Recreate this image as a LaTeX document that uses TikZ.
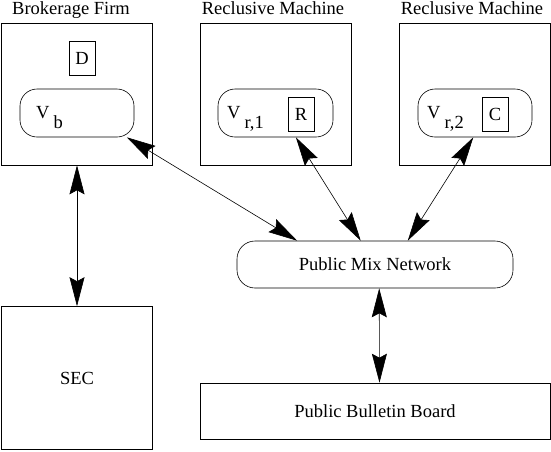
\documentclass[tikz,border=0pt]{standalone}
\usepackage{fontspec}
\setmainfont{Liberation Serif}
\usepackage{tikz}
\usetikzlibrary{arrows.meta}

\begin{document}
\begin{tikzpicture}
		[x=1pt,y=-1pt,font=\fontsize{18.5}{22}\selectfont,
		machine/.style={draw,line width=0.6pt,minimum width=151pt,minimum height=142pt},
		part/.style={draw,line width=0.6pt,rounded corners=17pt,minimum height=48pt},
		key/.style={draw,line width=0.6pt,minimum width=26pt,minimum height=34pt,inner sep=0pt},
		title/.style={anchor=base},
		edge/.style={{Stealth[length=29pt,width=15pt,inset=4pt]}-{Stealth[length=29pt,width=15pt,inset=4pt]},line width=0.6pt}]
		\useasboundingbox (0,0) rectangle (551,451);
		% top row
		\node[machine] (bf) at (77,94) {};
		\node[machine] (rm1) at (276,94) {};
		\node[machine] (rm2) at (474.5,94) {};
		\node[title] (bftitle) at (71,14) {Brokerage Firm};
		\node[title] (rm1title) at (273,14) {Reclusive Machine};
		\node[title] (rm2title) at (472,14) {Reclusive Machine};
		
		\node[key] (d) at (82,58) {D};
		\node[part,minimum width=114pt] (vb) at (77,113) {};
		\node[part,minimum width=115pt] (vr1) at (275.5,113) {};
		\node[part,minimum width=114pt] (vr2) at (475,113) {};
		\node[key] (r) at (301,114.5) {R};
		\node[key] (c) at (495,114.5) {C};
		\node[anchor=base west,inner sep=0pt] (vbtext) at (36,118) {V\hspace{4pt}\raisebox{-10pt}{b}};
		\node[anchor=base west,inner sep=0pt] (vr1text) at (227,118) {V\hspace{4pt}\raisebox{-10pt}{r,1}};
		\node[anchor=base west,inner sep=0pt] (vr2text) at (427,118) {V\hspace{4pt}\raisebox{-10pt}{r,2}};
		
		% lower part
		\node[part,rounded corners=18pt,minimum width=276pt,minimum height=47pt] (mix) at (375,264.5) {Public Mix Network};
		\node[machine,minimum height=143pt] (sec) at (77,378) {SEC};
		\node[draw,line width=0.6pt,minimum width=350pt,minimum height=56pt] (pbb) at (375,411) {Public Bulletin Board};
		
		\foreach \from/\to in {vb.-26.6/mix.163.4,vr1.-50.9/mix.121.5,vr2.-94.8/mix.36.6,bf.south/sec.north,mix.-80.3/pbb.81.9}
		\draw[edge] (\from) -- (\to);
\end{tikzpicture}
\end{document}
